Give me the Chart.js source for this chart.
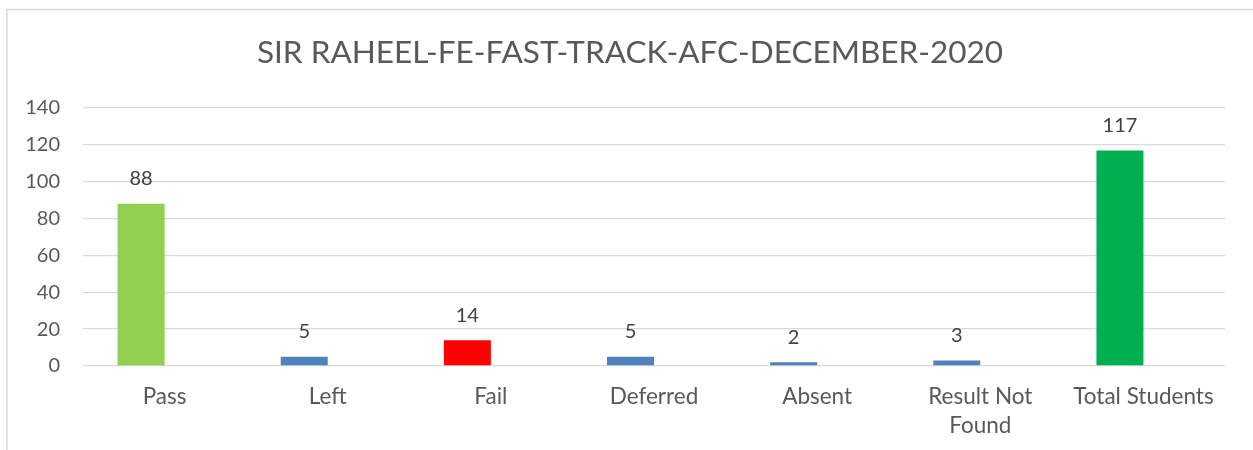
<!DOCTYPE html>
<html>
<head>
<meta charset="utf-8">
<script src="https://cdn.jsdelivr.net/npm/chart.js@4/dist/chart.umd.min.js"></script>
<style>
  html, body { margin: 0; padding: 0; background: #fff; }
  #wrap { width: 1253px; height: 450px; position: relative; }
</style>
</head>
<body>
<div id="wrap"><canvas id="chart"></canvas></div>
<script>
const categories = ['Pass', 'Left', 'Fail', 'Deferred', 'Absent', ['Result Not', 'Found'], 'Total Students'];
const studentCounts = [88, 5, 14, 5, 2, 3, 117];
const emptySeries = [null, null, null, null, null, null, null];
const barColors = ['#92D050', '#4F81BD', '#FF0000', '#4F81BD', '#4F81BD', '#4F81BD', '#00B050'];
const yTicks = { min: 0, max: 140, step: 20 };
const chartTitle = 'SIR RAHEEL-FE-FAST-TRACK-AFC-DECEMBER-2020';

const fontFamily = 'Lato, "Open Sans", sans-serif';

// frame round the whole chart and the title, like the spreadsheet chart box
const framePlugin = {
  id: 'frame',
  beforeDraw(chart) {
    const ctx = chart.ctx;
    ctx.save();
    ctx.strokeStyle = '#d9d9d9';
    ctx.lineWidth = 1.5;
    ctx.strokeRect(7, 9.5, 1260, 460);
    ctx.fillStyle = '#595959';
    ctx.font = '31.5px ' + fontFamily;
    ctx.textAlign = 'center';
    ctx.textBaseline = 'middle';
    ctx.fillText(chartTitle, 630, 53);
    ctx.restore();
  }
};

// value labels above each bar
const valueLabels = {
  id: 'valueLabels',
  afterDatasetsDraw(chart) {
    const ctx = chart.ctx;
    const meta = chart.getDatasetMeta(0);
    ctx.save();
    ctx.font = '20px ' + fontFamily;
    ctx.fillStyle = '#404040';
    ctx.textAlign = 'center';
    ctx.textBaseline = 'middle';
    meta.data.forEach((bar, i) => {
      const v = chart.data.datasets[0].data[i];
      if (v == null) return;
      ctx.fillText(String(v), bar.x, bar.y - 25);
    });
    ctx.restore();
  }
};

new Chart(document.getElementById('chart'), {
  type: 'bar',
  data: {
    labels: categories,
    datasets: [
      { label: 'Students', data: studentCounts, backgroundColor: barColors },
      { label: 'Other', data: emptySeries, backgroundColor: '#C0504D' }
    ]
  },
  options: {
    responsive: true,
    maintainAspectRatio: false,
    animation: false,
    categoryPercentage: 0.576,
    barPercentage: 1,
    layout: { padding: { top: 108, right: 28, bottom: 0, left: 0 } },
    plugins: {
      legend: { display: false },
      tooltip: { enabled: false },
      title: { display: false }
    },
    scales: {
      x: {
        grid: { display: false, drawTicks: false },
        border: { display: false },
        ticks: {
          color: '#595959',
          font: { family: fontFamily, size: 22.5, lineHeight: 1.29 },
          padding: 16.5,
          maxRotation: 0,
          autoSkip: false
        },
        afterFit(scale) { scale.height = 84; }
      },
      y: {
        min: yTicks.min,
        max: yTicks.max,
        grid: { color: '#d9d9d9', lineWidth: 1.3, drawTicks: false },
        border: { display: false },
        ticks: {
          stepSize: yTicks.step,
          color: '#595959',
          font: { family: fontFamily, size: 20 },
          padding: 23
        },
        afterFit(scale) { scale.width = 83; }
      }
    }
  },
  plugins: [framePlugin, valueLabels]
});
</script>
</body>
</html>
